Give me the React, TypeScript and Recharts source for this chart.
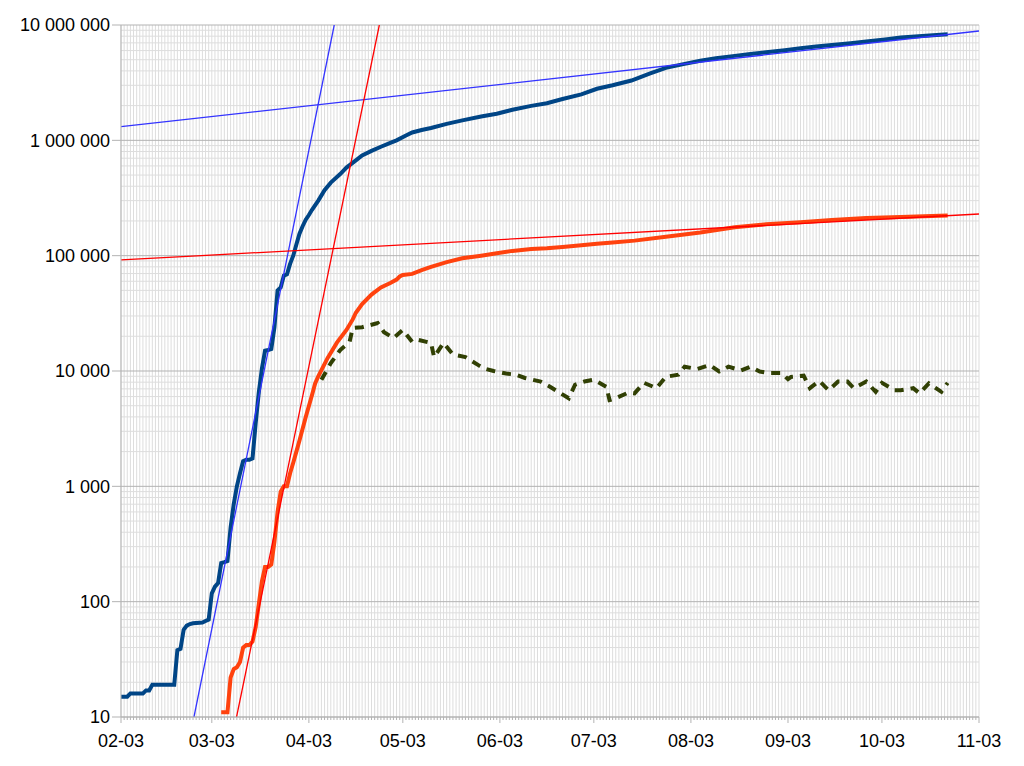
import { ComposedChart, Line, XAxis, YAxis, CartesianGrid } from 'recharts';

// day index 0 = 02-03
const monthDays = [0, 29, 60, 90, 121, 151, 182, 213, 243, 274];
const monthLabels = ['02-03', '03-03', '04-03', '05-03', '06-03', '07-03', '08-03', '09-03', '10-03', '11-03'];
const allDays = Array.from({ length: 275 }, (_, i) => i);

const yTicks = [10, 100, 1000, 10000, 100000, 1000000, 10000000];
const yMinor = [2, 3, 4, 5, 6, 7, 8, 9].flatMap((m) => [10, 100, 1000, 10000, 100000, 1000000].map((d) => m * d));

const caseDays = [0, 2, 3, 7, 8, 9, 10, 17, 18, 19, 20, 21, 22, 23, 26, 27, 28, 29, 30, 31, 32, 33, 34, 35, 36, 37, 38, 39, 40, 41, 42, 43, 44, 45, 46, 47, 48, 49, 50, 51, 52, 53, 54, 55, 56, 57, 58, 59, 60, 61, 63, 65, 67, 70, 72, 75, 77, 80, 83, 86, 88, 91, 93, 96, 99, 104, 109, 115, 120, 125, 131, 136, 141, 147, 152, 157, 163, 169, 174, 180, 185, 190, 196, 201, 206, 212, 217, 222, 227, 233, 238, 244, 249, 257, 264];
const caseValues = [15, 15, 16, 16, 17, 17, 19, 19, 38, 39, 57, 62, 64, 65, 66, 68, 70, 118, 135, 145, 216, 220, 225, 440, 700, 1000, 1300, 1650, 1700, 1700, 1750, 3500, 6500, 10500, 15000, 15200, 15500, 24000, 50000, 53000, 67000, 69000, 85000, 100000, 125000, 155000, 180000, 205000, 225000, 250000, 300000, 370000, 430000, 510000, 580000, 670000, 740000, 810000, 880000, 950000, 1000000, 1100000, 1170000, 1230000, 1280000, 1390000, 1490000, 1610000, 1700000, 1840000, 1990000, 2100000, 2280000, 2500000, 2800000, 3000000, 3300000, 3800000, 4250000, 4600000, 4900000, 5150000, 5400000, 5600000, 5800000, 6050000, 6300000, 6500000, 6700000, 6950000, 7200000, 7500000, 7800000, 8050000, 8300000];

const deathDays = [32, 34, 35, 36, 37, 38, 39, 40, 41, 42, 43, 44, 45, 46, 47, 48, 49, 50, 51, 52, 53, 54, 55, 56, 57, 59, 61, 62, 63, 66, 69, 72, 74, 75, 77, 80, 83, 86, 88, 89, 90, 93, 96, 99, 104, 109, 115, 120, 125, 131, 136, 141, 147, 152, 157, 164, 174, 185, 196, 206, 217, 227, 238, 249, 264];
const deathValues = [11, 11, 22, 26, 27, 30, 40, 42, 42, 45, 60, 95, 150, 200, 200, 210, 330, 600, 900, 1000, 1000, 1300, 1600, 2000, 2500, 4000, 6200, 7800, 9000, 13000, 17700, 22700, 28000, 32000, 38000, 46000, 53000, 58000, 62000, 66000, 68000, 69500, 75000, 80000, 88000, 95000, 100000, 105000, 110000, 114000, 116000, 119000, 123000, 127000, 130000, 135000, 146000, 159000, 176000, 187000, 195000, 204000, 212000, 216000, 223000];

const dailyDays = [64, 67, 70, 73, 74, 77, 82, 84, 87, 90, 93, 95, 99, 100, 103, 106, 110, 114, 116, 119, 123, 126, 129, 134, 137, 140, 143, 145, 148, 151, 155, 156, 158, 162, 164, 167, 171, 174, 178, 180, 184, 188, 191, 194, 198, 201, 204, 207, 211, 213, 214, 218, 220, 223, 226, 229, 232, 234, 238, 241, 243, 247, 249, 253, 255, 258, 262, 264];
const dailyValues = [8400, 11700, 15200, 17900, 23600, 24000, 26000, 21700, 19300, 22700, 17900, 18600, 17500, 13200, 17500, 13900, 13200, 11300, 10500, 10000, 9500, 9300, 8700, 8100, 7300, 6500, 5800, 7600, 8100, 8400, 7300, 5600, 5800, 6500, 6400, 7900, 7100, 8900, 9300, 10900, 10400, 11300, 9900, 10900, 10100, 10900, 9900, 9600, 9600, 8500, 8900, 9100, 7100, 8200, 6800, 8100, 8100, 7100, 8100, 6600, 7900, 6800, 6800, 7100, 6400, 7800, 6600, 7900];

// trend lines (start / end)
const casesFastDays = [23.3, 68.1];
const casesFastValues = [10, 10000000];
const casesSlowDays = [0, 274];
const casesSlowValues = [1313000, 8870000];
const deathsFastDays = [36.9, 82.5];
const deathsFastValues = [10, 10000000];
const deathsSlowDays = [0, 274];
const deathsSlowValues = [91800, 229800];

const toRows = (days: number[], values: number[]) => days.map((day, i) => ({ day, v: values[i] }));

const fmt = (v: number) => String(v).replace(/\B(?=(\d{3})+(?!\d))/g, ' ');
const font = '"Liberation Sans", Arial, sans-serif';

const DayTick = (props: any) => {
  const { x, y, payload } = props;
  const idx = monthDays.indexOf(payload.value);
  if (idx < 0) return <line x1={x} y1={y} x2={x} y2={y + 3} stroke="#b3b3b3" />;
  return (
    <g>
      <line x1={x} y1={y} x2={x} y2={y + 6} stroke="#b3b3b3" />
      <text x={x} y={y + 30} textAnchor="middle" fill="#000" fontSize={18} fontFamily={font}>
        {monthLabels[idx]}
      </text>
    </g>
  );
};

export default function App() {
  return (
    <ComposedChart width={1008} height={750} margin={{ top: 17, right: 37, bottom: 6, left: 0 }}>
      <CartesianGrid vertical={false} horizontalValues={yMinor} stroke="#dddddd" />
      <CartesianGrid horizontal={false} stroke="#dddddd" />
      <CartesianGrid vertical={false} stroke="#b3b3b3" />
      <XAxis
        type="number"
        dataKey="day"
        domain={[0, 274]}
        ticks={allDays}
        interval={0}
        tickSize={0}
        tickMargin={0}
        tickLine={false}
        tick={<DayTick />}
        axisLine={{ stroke: '#b3b3b3' }}
        height={35}
        allowDataOverflow
      />
      <YAxis
        scale="log"
        domain={[10, 10000000]}
        ticks={yTicks}
        interval={0}
        width={113}
        tickSize={9}
        tickMargin={2}
        tickFormatter={fmt}
        tick={{ fill: '#000', fontSize: 18, fontFamily: font }}
        tickLine={{ stroke: '#b3b3b3' }}
        axisLine={{ stroke: '#b3b3b3' }}
        allowDataOverflow
      />
      <Line data={toRows(caseDays, caseValues)} dataKey="v" stroke="#004586" strokeWidth={4} dot={false} isAnimationActive={false} />
      <Line data={toRows(deathDays, deathValues)} dataKey="v" stroke="#ff420e" strokeWidth={4} dot={false} isAnimationActive={false} />
      <Line data={toRows(dailyDays, dailyValues)} dataKey="v" stroke="#314004" strokeWidth={4} strokeDasharray="9 7" dot={false} isAnimationActive={false} />
      <Line data={toRows(casesFastDays, casesFastValues)} dataKey="v" stroke="#3333ff" strokeWidth={1.3} dot={false} isAnimationActive={false} />
      <Line data={toRows(casesSlowDays, casesSlowValues)} dataKey="v" stroke="#3333ff" strokeWidth={1.3} dot={false} isAnimationActive={false} />
      <Line data={toRows(deathsFastDays, deathsFastValues)} dataKey="v" stroke="#ff0000" strokeWidth={1.3} dot={false} isAnimationActive={false} />
      <Line data={toRows(deathsSlowDays, deathsSlowValues)} dataKey="v" stroke="#ff0000" strokeWidth={1.3} dot={false} isAnimationActive={false} />
    </ComposedChart>
  );
}
